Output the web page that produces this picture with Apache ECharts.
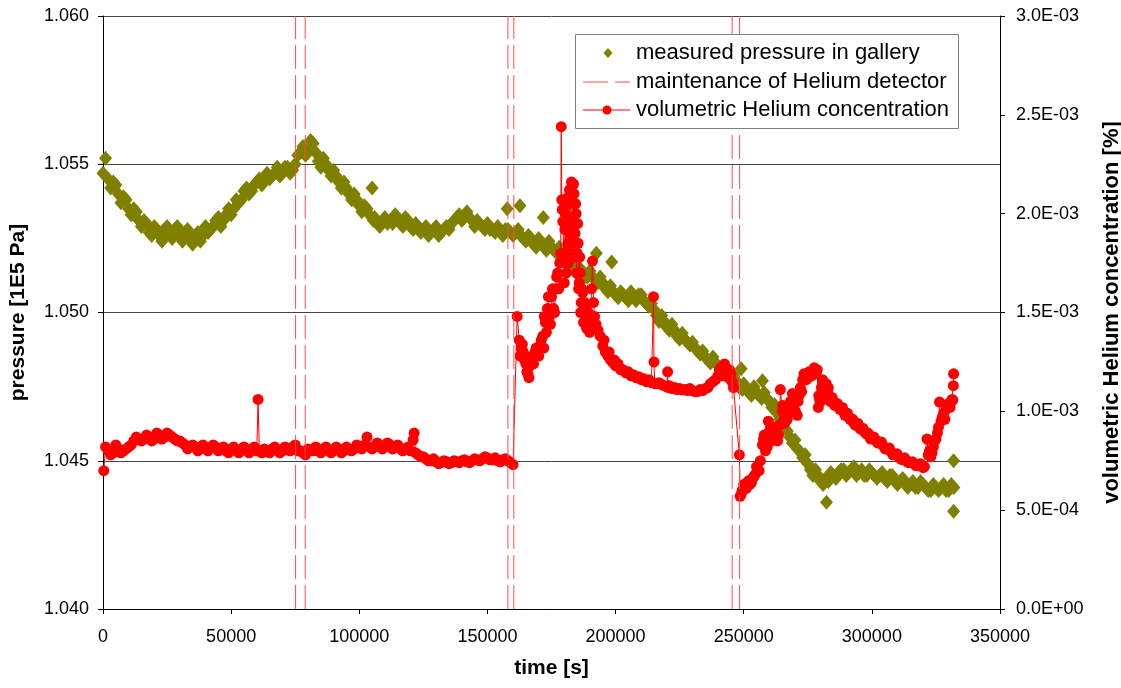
<!DOCTYPE html>
<html>
<head>
<meta charset="utf-8">
<script src="https://cdn.jsdelivr.net/npm/echarts@6/dist/echarts.min.js"></script>
<style>
html,body{margin:0;padding:0;background:#fff;}
#chart{width:1121px;height:688px;}
</style>
</head>
<body>
<div id="chart"></div>
<script>
// ---- axis ticks ----
const xTicks = [0, 50000, 100000, 150000, 200000, 250000, 300000, 350000];
const pressureTicks = [1.040, 1.045, 1.050, 1.055, 1.060];
const heliumTicks = [0, 0.0005, 0.001, 0.0015, 0.002, 0.0025, 0.003];

// ---- maintenance of Helium detector (time, s) ----
const maintenanceTimes = [75150, 78900, 158000, 160300, 245500, 248400];

// ---- measured pressure in gallery: [time (ks), pressure (1E5 Pa)] ----
const pressureSamples = [
 [0,1.0547],[1,1.0552],[2,1.0545],[4,1.0544],[6,1.0540],[8,1.0539],[10,1.0535],[12,1.0535],[14,1.0531],[16,1.0531],
 [18,1.0527],[20,1.0529],[22,1.0526],[24,1.0528],[26,1.0526],[28,1.0528],[30,1.0526],[32,1.0527],[34,1.0525],[36,1.0526],
 [38,1.0524],[40,1.0529],[42,1.0528],[44,1.0531],[46,1.0529],[48,1.0533],[50,1.0533],[52,1.0538],[54,1.0538],[56,1.0542],
 [58,1.0541],[60,1.0544],[62,1.0543],[64,1.0547],[66,1.0546],[68,1.0549],[70,1.0547],[72,1.0549],[74,1.0548],[76,1.0553],
 [78,1.0556],[80,1.0554],[82,1.0557],[84,1.0551],[86,1.0552],[88,1.0548],[90,1.0548],[92,1.0544],[94,1.0544],[96,1.0540],
 [98,1.0540],[100,1.0536],[102,1.0536],[104,1.0533],[105,1.0542],[106,1.0532],[108,1.0529],[110,1.0532],[112,1.0531],[114,1.0533],
 [116,1.0530],[118,1.0532],[120,1.0529],[122,1.0530],[124,1.0527],[126,1.0529],[128,1.0527],[130,1.0529],[132,1.0527],[134,1.0529],
 [136,1.0530],[138,1.0532],[140,1.0531],[142,1.0534],[144,1.0531],[146,1.0531],[148,1.0529],[150,1.0530],[152,1.0528],[154,1.0529],
 [156,1.0526],[157.7,1.0535],[158,1.0528],[160,1.0526],[162,1.0528],[162.7,1.0536],[164,1.0525],[166,1.0526],[168,1.0523],[170,1.0525],
 [171.8,1.0532],[172,1.0522],[174,1.0524],[176,1.0521],[178,1.0522],[180,1.0517],[182,1.0518],[184,1.0514],[186,1.0515],[188,1.0512],
 [190,1.0514],[192,1.0511],[192.5,1.0520],[194,1.0512],[196,1.0508],[198,1.0509],[198.5,1.0517],[200,1.0506],[202,1.0507],[204,1.0505],
 [206,1.0507],[208,1.0504],[210,1.0506],[212,1.0503],[214,1.0503],[216,1.0499],[218,1.0499],[220,1.0495],[222,1.0496],[224,1.0492],
 [226,1.0493],[228,1.0490],[230,1.0490],[232,1.0487],[234,1.0487],[236,1.0484],[238,1.0485],[240,1.0482],[242,1.0482],[244,1.0478],
 [246,1.0479],[248,1.0475],[249,1.0481],[250,1.0476],[252,1.0473],[254,1.0475],[256,1.0472],[257.3,1.0477],[258,1.0473],[260,1.0470],
 [262,1.0469],[264,1.0464],[266,1.0463],[268,1.0458],[270,1.0457],[272,1.0453],[274,1.0452],[276,1.0447],[278,1.0447],[280,1.0443],
 [282,1.0444],[282.3,1.0436],[284,1.0446],[286,1.0444],[288,1.0447],[290,1.0445],[292,1.0447],[294,1.0445],[296,1.0447],[298,1.0445],
 [300,1.0446],[302,1.0444],[304,1.0446],[306,1.0443],[308,1.0445],[310,1.0442],[312,1.0444],[314,1.0441],[316,1.0443],[318,1.0441],
 [320,1.0442],[322,1.0440],[324,1.0442],[326,1.0440],[328,1.0442],[330,1.0440],[331.9,1.0450],[331.9,1.0433],[332,1.0441]
];
const pressureSamplesOdd = [
 [3,1.0542],[5,1.0543],[7,1.0537],[9,1.0538],[11,1.0533],[13,1.0534],[15,1.0529],[17,1.0530],[19,1.0526],[21,1.0528],
 [23,1.0524],[25,1.0529],[27,1.0525],[29,1.0529],[31,1.0524],[33,1.0528],[35,1.0523],[37,1.0527],[39,1.0526],[41,1.0527],
 [43,1.0529],[45,1.0532],[47,1.0531],[49,1.0535],[51,1.0535],[53,1.0537],[55,1.0541],[57,1.0540],[59,1.0543],[61,1.0545],
 [63,1.0545],[65,1.0545],[67,1.0547],[69,1.0546],[71,1.0549],[73,1.0547],[75,1.0550],[77,1.0554],[79,1.0553],[81,1.0558],
 [83,1.0554],[85,1.0549],[87,1.0550],[89,1.0546],[91,1.0546],[93,1.0542],[95,1.0542],[97,1.0538],[99,1.0538],[101,1.0534],
 [103,1.0535],[105.5,1.0531],[107,1.0530],[109,1.0531],[111,1.0530],[113,1.0530],[115,1.0532],[117,1.0529],[119,1.0531],[121,1.0528],
 [123,1.0528],[125,1.0528],[127,1.0526],[129,1.0528],[131,1.0526],[133,1.0528],[135,1.0528],[137,1.0531],[139,1.0533],[141,1.0532],
 [143,1.0532],[145,1.0529],[147,1.0530],[149,1.0528],[151,1.0528],[153,1.0527],[155,1.0527],[157,1.0528],[159,1.0527],[161,1.0527],
 [163,1.0526],[165,1.0524],[167,1.0525],[169,1.0522],[171,1.0523],[173,1.0521],[175,1.0522],[177,1.0520],[179,1.0519],[181,1.0516],
 [183,1.0516],[185,1.0513],[187,1.0514],[189,1.0512],[191,1.0512],[193,1.0510],[195,1.0510],[197,1.0507],[199,1.0507],[201,1.0505],
 [203,1.0506],[205,1.0504],[207,1.0505],[209,1.0506],[211,1.0504],[213,1.0502],[215,1.0501],[217,1.0497],[219,1.0497],[221,1.0494],
 [223,1.0494],[225,1.0491],[227,1.0491],[229,1.0489],[231,1.0488],[233,1.0486],[235,1.0485],[237,1.0483],[239,1.0483],[241,1.0480],
 [243,1.0480],[245,1.0477],[247,1.0477],[249.5,1.0474],[251,1.0474],[253,1.0472],[255,1.0473],[257,1.0471],[259,1.0471],[261,1.0468],
 [263,1.0466],[265,1.0462],[267,1.0460],[269,1.0456],[271,1.0454],[273,1.0451],[275,1.0449],[277,1.0445],[279,1.0445],[281,1.0442],
 [283,1.0443],[285,1.0445],[287,1.0446],[289,1.0447],[291,1.0446],[293,1.0448],[295,1.0446],[297,1.0445],[299,1.0447],[301,1.0445],
 [303,1.0445],[305,1.0444],[307,1.0445],[309,1.0443],[311,1.0443],[313,1.0443],[315,1.0442],[317,1.0441],[319,1.0443],[321,1.0441],
 [323,1.0440],[325,1.0441],[327,1.0441],[329,1.0440],[331,1.0442]
];

// ---- volumetric Helium concentration: [time (ks), concentration (1E-3 %)] ----
const heliumSamples = [
 [0.3,0.70],[2,0.80],[4,0.79],[6,0.81],[8,0.80],[10,0.82],[12,0.85],[14,0.86],[16,0.86],[18,0.87],
 [20,0.86],[22,0.88],[24,0.87],[26,0.88],[28,0.86],[30,0.85],[32,0.83],[34,0.82],[36,0.82],[38,0.815],
 [40,0.81],[42,0.82],[44,0.82],[46,0.81],[48,0.80],[50,0.81],[52,0.80],[54,0.81],[56,0.80],[58,0.81],
 [60,0.80],[60.5,1.06],[61,0.80],[62,0.79],[64,0.80],[66,0.81],[68,0.80],[70,0.80],[72,0.81],[74,0.82],
 [76,0.80],[78,0.79],[80,0.81],[82,0.80],[84,0.80],[86,0.81],[88,0.80],[90,0.80],[92,0.81],[94,0.80],
 [96,0.81],[98,0.81],[100,0.82],[102,0.83],[103,0.87],[104,0.82],[106,0.82],[108,0.83],[110,0.82],[112,0.83],[114,0.82],
 [116,0.81],[118,0.81],[120,0.80],[121,0.855],[121.4,0.89],[122,0.79],[124,0.77],[126,0.76],[128,0.75],[130,0.745],
 [132,0.74],[134,0.745],[136,0.74],[138,0.745],[140,0.75],[142,0.745],[144,0.75],[146,0.755],[148,0.76],[150,0.765],
 [152,0.755],[154,0.75],[156,0.755],[158,0.75],[160,0.73],
 [161.6,1.48],[162.4,1.36],[163.2,1.32],[164,1.30],[165,1.24],[165.8,1.19],[166.6,1.23],[167.6,1.28],[168.6,1.30],[169.6,1.29],
 [170.6,1.33],[171.6,1.38],[172.6,1.45],[173.4,1.52],[174.2,1.48],[175,1.58],[175.8,1.52],[176.6,1.62],[177.4,1.70],[178.2,1.75],
 [178.6,1.80],[178.8,2.44],[179.0,2.07],[179.2,2.02],[179.4,1.96],[179.8,1.80],[180.2,1.92],[180.6,1.78],[181,1.98],[181.4,1.85],
 [181.8,2.05],[182.2,1.90],[182.6,2.12],[183,2.14],[183.4,1.95],[183.8,2.10],[184.2,1.90],[184.6,2.00],[185,1.80],[185.4,1.85],
 [185.8,1.65],[186.2,1.70],[186.6,1.55],[187.2,1.60],[187.8,1.50],[188.4,1.52],[189,1.45],[189.6,1.47],[190.2,1.42],[190.6,1.62],
 [191,1.76],[191.4,1.55],[191.8,1.48],[192.4,1.44],[193.2,1.41],[194,1.38],[195,1.33],[196,1.30],[197,1.28],[198,1.26],
 [199,1.245],[200,1.23],[202,1.21],[204,1.195],[206,1.18],[208,1.17],[210,1.16],[212,1.15],[214,1.145],[214.8,1.58],
 [215,1.25],[215.3,1.14],[216,1.14],[218,1.135],[220,1.125],[220.3,1.20],[220.6,1.12],[222,1.115],[224,1.11],[226,1.108],
 [228,1.105],[230,1.105],[232,1.10],[234,1.105],[236,1.12],[238,1.15],[240,1.18],[241,1.22],[242,1.20],[243,1.22],
 [244,1.17],[245,1.19],[246,1.12],
 [248.3,0.78],[248.6,0.57],[249.4,0.60],[250.5,0.62],[251.4,0.64],[252.4,0.63],[253.4,0.66],[254.4,0.68],[255.4,0.70],[256.5,0.75],
 [257.3,0.83],[257.7,0.86],[258.5,0.80],[259.2,0.82],[260,0.90],[260.4,0.93],[261.2,0.88],[262,0.86],[263.2,0.85],[264,0.93],
 [264.3,1.11],[265,1.00],[265.5,0.95],[266.3,0.97],[267,0.96],[267.8,1.02],[268.2,1.05],[269,1.09],[269.4,1.08],[270.2,1.00],
 [270.9,0.98],[271.6,1.08],[272.1,1.12],[273,1.16],[274,1.18],[275,1.17],[276,1.19],[277,1.20],[278,1.21],[278.7,1.21],
 [279.1,1.02],[279.6,1.06],[280.3,1.12],[281,1.15],[281.5,1.13],[282.2,1.14],[282.7,1.10],[283.4,1.07],[284,1.06],[285,1.05],
 [286,1.03],[287,1.02],[288,1.01],[289,1.00],[290,0.98],[291,0.97],[292,0.955],[293,0.94],[294,0.93],[295,0.925],
 [296,0.91],[297,0.90],[298,0.885],[299,0.875],[300,0.87],[301.5,0.855],[303,0.84],[304.5,0.825],[306,0.81],[307.5,0.795],
 [309,0.78],[310.5,0.77],[312,0.755],[313.5,0.75],[315,0.74],[316.5,0.735],[318,0.73],[319.5,0.725],[320.5,0.72],[321.5,0.86],
 [322,0.78],[323,0.77],[324,0.82],[325,0.86],[325.6,0.89],[326.4,1.047],[327,0.95],[328,0.99],[329,1.01],[330,1.04],
 [331,1.05],[331.6,1.057],[331.8,1.13],[331.9,1.19]
];
const heliumSamplesExtra = [
 [1,0.82],[3,0.78],[5,0.83],[7,0.79],[9,0.81],[11,0.83],[13,0.87],[15,0.85],[17,0.88],[19,0.85],
 [21,0.89],[23,0.86],[25,0.89],[27,0.87],[29,0.85],[31,0.84],[33,0.81],[35,0.83],[37,0.80],[39,0.83],
 [41,0.80],[43,0.83],[45,0.80],[47,0.82],[49,0.79],[51,0.82],[53,0.79],[55,0.82],[57,0.79],[59,0.82],
 [63,0.81],[65,0.79],[67,0.82],[69,0.79],[71,0.82],[73,0.80],[75,0.83],[77,0.80],[79,0.78],[81,0.80],
 [83,0.82],[85,0.79],[87,0.82],[89,0.79],[91,0.82],[93,0.79],[95,0.82],[97,0.80],[99,0.83],[101,0.81],
 [105,0.81],[107,0.84],[109,0.81],[111,0.84],[113,0.81],[115,0.83],[117,0.80],[119,0.82],[123,0.78],[125,0.77],
 [127,0.75],[129,0.76],[131,0.735],[133,0.75],[135,0.735],[137,0.75],[139,0.74],[141,0.755],[143,0.74],[145,0.76],
 [147,0.75],[149,0.77],[151,0.755],[153,0.765],[155,0.745],[157,0.76],[159,0.74],
 [162.8,1.28],[163.6,1.34],[164.5,1.26],[165.4,1.20],[166.2,1.17],[167,1.27],[168,1.24],[169,1.32],[170,1.28],[171,1.36],
 [172,1.32],[172.2,1.48],[173,1.40],[173.8,1.58],[174.6,1.44],[175.4,1.62],[176.2,1.50],[177,1.68],[177.8,1.62],
 [180,1.65],[180.4,2.00],[180.8,1.70],[181.2,2.08],[181.6,1.75],[182,2.12],[182.4,1.80],[182.8,2.16],[183.2,1.85],[183.6,2.15],
 [184,1.78],[184.4,2.05],[184.8,1.70],[185.2,1.95],[185.6,1.62],[186,1.78],[186.4,1.50],[186.8,1.62],[187.5,1.45],[188,1.55],
 [188.7,1.42],[189.3,1.50],[189.9,1.40],
 [195.5,1.36],[197.5,1.30],[199.5,1.26],[201,1.24],[203,1.21],[205,1.20],[207,1.185],[209,1.175],[211,1.165],[213,1.16],
 [217,1.145],[219,1.13],[221,1.13],[223,1.12],[225,1.115],[227,1.11],[229,1.115],[231,1.10],[233,1.11],[235,1.115],
 [237,1.14],[239,1.16],[240.5,1.21],[241.5,1.18],[242.5,1.24],[243.5,1.19],[244.5,1.21],[245.5,1.15],
 [249,0.58],[250,0.63],[251,0.61],[252,0.65],[253,0.64],[254,0.67],[255,0.72],[256,0.70],[258,0.88],[259.6,0.95],
 [260.8,0.85],[262.6,0.92],[263.6,0.88],[265.2,1.03],[266,0.94],[266.7,1.01],[268.6,1.00],[269.8,1.04],[271.2,1.05],[272.6,1.10],
 [273.5,1.19],[274.5,1.16],[275.5,1.20],[276.5,1.18],[277.5,1.22],[278.3,1.19],[279.3,1.08],[280,1.05],[280.7,1.16],[282.4,1.08],
 [283,1.12],[283.7,1.05],[284.5,1.07],[285.5,1.03],[286.5,1.04],[287.5,1.01],[288.5,1.02],[289.5,0.98],[290.5,0.99],[291.5,0.96],
 [292.5,0.96],[293.5,0.93],[294.5,0.94],[295.5,0.91],[296.5,0.915],[297.5,0.89],[298.5,0.89],[299.5,0.86],[300.8,0.87],[302.2,0.84],
 [303.7,0.845],[305.2,0.81],[306.8,0.815],[308.2,0.78],[309.8,0.785],[311.2,0.76],[312.8,0.765],[314.2,0.74],[315.8,0.745],[317.2,0.725],
 [318.8,0.735],[320,0.715],[322.5,0.80],[323.5,0.79],[324.5,0.85],[326,0.92],[327.5,0.97],[328.5,0.96],[329.5,1.02],[330.5,1.02],
 [331.3,1.06]
];

const seriesNames = ['measured pressure in gallery', 'maintenance of Helium detector', 'volumetric Helium concentration'];

// ---- build ----
const FONT = 'Liberation Sans, Arial, sans-serif';
const pressureData = pressureSamples.concat(pressureSamplesOdd).map(d => [d[0] * 1000, d[1]]);
const heliumData = heliumSamples.concat(heliumSamplesExtra)
  .slice().sort((a, b) => a[0] - b[0])
  .map(d => [d[0] * 1000, d[1] * 1e-3]);

function sci(v) {
  let s = Number(v).toExponential(1).toUpperCase();
  return s.replace(/E([+-])(\d)$/, 'E$10$2');
}

const MAINT_COLOR = '#ff4d4d';
const maintenanceSeries = maintenanceTimes.map(t => ({
  name: seriesNames[1],
  type: 'line',
  yAxisIndex: 0,
  symbol: 'none',
  silent: true,
  z: 5,
  lineStyle: { color: MAINT_COLOR, width: 1, type: [24, 6] },
  itemStyle: { color: MAINT_COLOR },
  data: [[t, pressureTicks[0]], [t, pressureTicks[pressureTicks.length - 1]]]
}));

// legend drawn as graphic (box, icons, texts)
const LX = 575, LY = 34, LW = 383, LH = 94;
const rowY = [53, 82, 110];
const legendGraphic = [
  { type: 'rect', left: LX, top: LY, z: 100, shape: { width: LW, height: LH },
    style: { fill: '#fff', stroke: '#808080', lineWidth: 1 } },
  { type: 'polygon', z: 101, shape: { points: [[608, rowY[0] - 5], [612.5, rowY[0]], [608, rowY[0] + 5], [603.5, rowY[0]]] },
    style: { fill: '#808000' } },
  { type: 'line', z: 101, shape: { x1: 583, y1: rowY[1], x2: 630, y2: rowY[1] },
    style: { stroke: MAINT_COLOR, lineWidth: 1, lineDash: [25, 7] } },
  { type: 'line', z: 101, shape: { x1: 583, y1: rowY[2], x2: 630, y2: rowY[2] },
    style: { stroke: '#ff0000', lineWidth: 1 } },
  { type: 'circle', z: 101, shape: { cx: 607, cy: rowY[2], r: 4.5 }, style: { fill: '#ff0000' } }
].concat(seriesNames.map((n, i) => ({
  type: 'text', z: 101, x: 636, y: rowY[i],
  style: { text: n, fill: '#000', font: '22px ' + FONT, textVerticalAlign: 'middle', verticalAlign: 'middle' }
})));

const chart = echarts.init(document.getElementById('chart'), null, { renderer: 'canvas' });
chart.setOption({
  animation: false,
  backgroundColor: '#fff',
  grid: { left: 103, right: 121, top: 16, bottom: 79, show: false, containLabel: false, outerBoundsMode: 'none' },
  legend: { show: false, data: seriesNames },
  graphic: legendGraphic,
  xAxis: {
    type: 'value', min: xTicks[0], max: xTicks[xTicks.length - 1], interval: 50000,
    name: 'time [s]', nameLocation: 'middle', nameGap: 49,
    nameTextStyle: { fontSize: 21, fontWeight: 'bold', color: '#000', fontFamily: FONT },
    axisLine: { show: true, lineStyle: { color: '#000', width: 1 } },
    axisTick: { show: true, inside: false, length: 5, lineStyle: { color: '#000' } },
    axisLabel: { fontSize: 18, color: '#000', fontFamily: FONT, margin: 19, formatter: v => String(v) },
    splitLine: { show: false }
  },
  yAxis: [{
    type: 'value', min: pressureTicks[0], max: pressureTicks[pressureTicks.length - 1], interval: 0.005,
    name: 'pressure [1E5 Pa]', nameLocation: 'middle', nameGap: 74, nameRotate: 90,
    nameTextStyle: { fontSize: 21, fontWeight: 'bold', color: '#000', fontFamily: FONT },
    axisLine: { show: true, lineStyle: { color: '#000', width: 1 } },
    axisTick: { show: true, inside: false, length: 5, lineStyle: { color: '#000' } },
    axisLabel: { fontSize: 18, color: '#000', fontFamily: FONT, margin: 14, formatter: v => v.toFixed(3) },
    splitLine: { show: true, lineStyle: { color: '#444', width: 1 } }
  }, {
    type: 'value', min: heliumTicks[0], max: heliumTicks[heliumTicks.length - 1], interval: 0.0005,
    position: 'right',
    name: 'volumetric Helium concentration [%]', nameLocation: 'middle', nameGap: 101, nameRotate: 90,
    nameTextStyle: { fontSize: 22, fontWeight: 'bold', color: '#000', fontFamily: FONT },
    axisLine: { show: true, lineStyle: { color: '#000', width: 1 } },
    axisTick: { show: true, inside: false, length: 5, lineStyle: { color: '#000' } },
    axisLabel: { fontSize: 18, color: '#000', fontFamily: FONT, margin: 16, formatter: sci },
    splitLine: { show: false }
  }],
  series: [{
    name: seriesNames[0],
    type: 'scatter',
    yAxisIndex: 0,
    symbol: 'diamond',
    symbolSize: [13, 15],
    z: 2,
    itemStyle: { color: '#808000', opacity: 1 },
    data: pressureData
  }].concat(maintenanceSeries).concat([{
    name: seriesNames[2],
    type: 'line',
    yAxisIndex: 1,
    symbol: 'circle',
    symbolSize: 11,
    showAllSymbol: true,
    z: 3,
    lineStyle: { color: '#ff0000', width: 1 },
    itemStyle: { color: '#ff0000' },
    data: heliumData
  }])
});
</script>
</body>
</html>
